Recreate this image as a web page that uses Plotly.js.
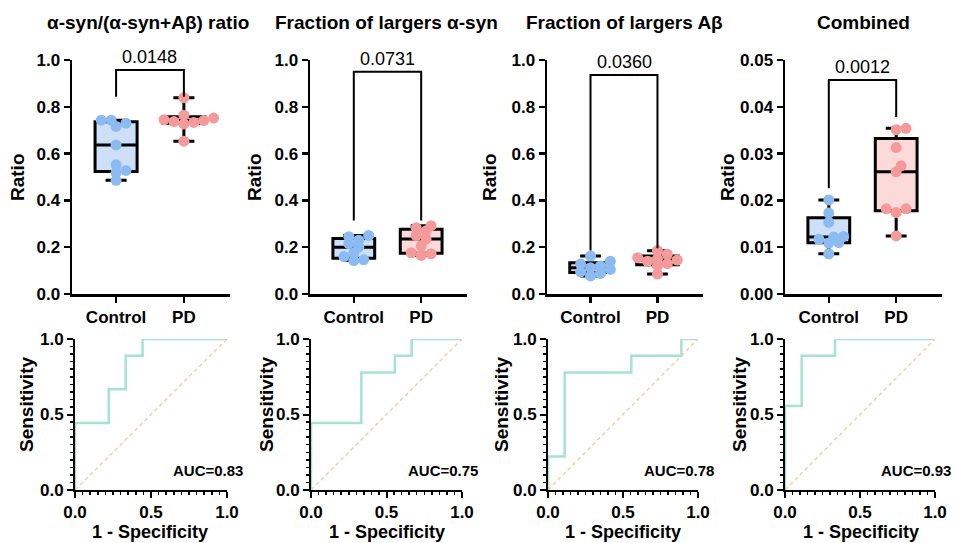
<!DOCTYPE html>
<html><head><meta charset="utf-8">
<script src="https://cdn.plot.ly/plotly-3.0.1.min.js"></script>
<style>html,body{margin:0;padding:0;background:#fff}#chart{width:958px;height:543px}</style>
</head><body><div id="chart"></div>
<script>
// ---------- DATA ----------
const groups = ['Control', 'PD'];
const panelTitles = ['α-syn/(α-syn+Aβ) ratio', 'Fraction of largers α-syn', 'Fraction of largers Aβ', 'Combined'];
const control1 = [0.486, 0.519, 0.528, 0.552, 0.637, 0.716, 0.730, 0.743, 0.743];
const pd1      = [0.653, 0.727, 0.733, 0.737, 0.741, 0.745, 0.752, 0.764, 0.839];
const control2 = [0.143, 0.146, 0.160, 0.175, 0.200, 0.215, 0.230, 0.245, 0.250];
const pd2      = [0.165, 0.172, 0.176, 0.206, 0.235, 0.250, 0.270, 0.283, 0.292];
const control3 = [0.077, 0.088, 0.095, 0.105, 0.112, 0.120, 0.128, 0.140, 0.162];
const pd3      = [0.085, 0.120, 0.130, 0.140, 0.145, 0.150, 0.155, 0.170, 0.185];
const control4 = [0.0086, 0.0109, 0.0110, 0.0117, 0.0122, 0.0123, 0.0153, 0.0173, 0.0201];
const pd4      = [0.0124, 0.0174, 0.0182, 0.0182, 0.0261, 0.0274, 0.0313, 0.0351, 0.0354];
const pValues = ['0.0148', '0.0731', '0.0360', '0.0012'];
const bracketTop   = [0.957, 0.950, 0.936, 0.0457];
const bracketLeft  = [0.843, 0.314, 0.186, 0.0226];
const bracketRight = [0.843, 0.314, 0.196, 0.0378];
const yMax  = [1, 1, 1, 0.05];
const yStep = [0.2, 0.2, 0.2, 0.01];
const yFormat = ['.1f', '.1f', '.1f', '.2f'];
const rocFpr1 = [0, 0, 2/9, 3/9, 4/9, 1];
const rocTpr1 = [0, 4/9, 6/9, 8/9, 1, 1];
const rocFpr2 = [0, 0, 3/9, 5/9, 6/9, 1];
const rocTpr2 = [0, 4/9, 7/9, 8/9, 1, 1];
const rocFpr3 = [0, 0, 1/9, 5/9, 8/9, 1];
const rocTpr3 = [0, 2/9, 7/9, 8/9, 1, 1];
const rocFpr4 = [0, 0, 1/9, 3/9, 1];
const rocTpr4 = [0, 5/9, 8/9, 1, 1];
const aucLabels = ['AUC=0.83', 'AUC=0.75', 'AUC=0.78', 'AUC=0.93'];

// ---------- LAYOUT HELPERS ----------
const W = 958, H = 543;
const FONT = 'Liberation Sans, Arial, Helvetica, sans-serif';
const topX = [[72, 230], [310, 467], [547, 703], [785, 942]];
const topY = [60, 294];
const botX = [[75, 227], [311, 462], [548, 698], [785, 935]];
const botY = [339, 490];
const catRange = [-0.65, 1.68];
const titleX = [148, 386, 624, 863];
const ratioX = [18, 255, 490, 728];
const sensX = [26, 266, 501, 739];
const specX = [150, 387, 623, 861];
const ctrlColor = '#8cbbf1', ctrlFill = '#cde0f7';
const pdColor = '#f49a9a', pdFill = '#fcdada';
const rocColor = '#a6e3cd', diagColor = '#f7cfa6';
const MARK = 11;

const dxp = a => [a[0] / W, a[1] / W];
const dyp = a => [(H - a[1]) / H, (H - a[0]) / H];

function quart(vals) {
  const s = vals.slice().sort((a, b) => a - b);
  const med = arr => { const n = arr.length, m = Math.floor(n / 2); return n % 2 ? arr[m] : (arr[m - 1] + arr[m]) / 2; };
  const n = s.length, h = Math.floor(n / 2);
  const lower = s.slice(0, h), upper = s.slice(n % 2 ? h + 1 : h);
  return {q1: med(lower), median: med(s), q3: med(upper), min: s[0], max: s[n - 1]};
}

function swarmOffsets(vals, pxPerVal, pxPerCat, diam) {
  const idx = vals.map((v, i) => i).sort((a, b) => vals[a] - vals[b]);
  const placed = [], off = new Array(vals.length).fill(0);
  const step = diam * 0.45, minD = diam * 0.62;
  for (const i of idx) {
    for (let k = 0; k < 60; k++) {
      const cand = k === 0 ? 0 : (k % 2 ? 1 : -1) * Math.ceil(k / 2) * step;
      let ok = true;
      for (const p of placed) {
        const ddx = cand - p.x, ddy = (vals[i] - p.v) * pxPerVal;
        if (ddx * ddx + ddy * ddy < minD * minD) { ok = false; break; }
      }
      if (ok) { off[i] = cand / pxPerCat; placed.push({x: cand, v: vals[i]}); break; }
    }
  }
  return off;
}

const groupData = [[control1, pd1], [control2, pd2], [control3, pd3], [control4, pd4]];
const rocData = [[rocFpr1, rocTpr1], [rocFpr2, rocTpr2], [rocFpr3, rocTpr3], [rocFpr4, rocTpr4]];

const traces = [];
const layout = {
  width: W, height: H, margin: {l: 0, r: 0, t: 0, b: 0},
  paper_bgcolor: '#fff', plot_bgcolor: '#fff', showlegend: false,
  font: {family: FONT, color: '#000'},
  annotations: []
};
const bold = sz => ({size: sz, weight: 'bold', family: FONT, color: '#000'});

for (let p = 0; p < 4; p++) {
  const ti = p + 1, bi = p + 5;
  const tx = 'x' + (ti === 1 ? '' : ti), ty = 'y' + (ti === 1 ? '' : ti);
  const bx = 'x' + bi, by = 'y' + bi;
  const pxPerVal = (topY[1] - topY[0]) / yMax[p];
  const pxPerCat = (topX[p][1] - topX[p][0]) / (catRange[1] - catRange[0]);

  groupData[p].forEach((vals, g) => {
    const q = quart(vals);
    traces.push({
      type: 'box', xaxis: tx, yaxis: ty, x: [g],
      q1: [q.q1], median: [q.median], q3: [q.q3], lowerfence: [q.min], upperfence: [q.max],
      width: 0.62, whiskerwidth: 0.5, boxpoints: false,
      fillcolor: g === 0 ? ctrlFill : pdFill,
      line: {color: '#000', width: 3}, hoverinfo: 'skip'
    });
    const off = swarmOffsets(vals, pxPerVal, pxPerCat, MARK);
    traces.push({
      type: 'scatter', mode: 'markers', xaxis: tx, yaxis: ty,
      x: vals.map((v, i) => g + off[i]), y: vals,
      marker: {size: MARK, color: g === 0 ? ctrlColor : pdColor, line: {width: 0}},
      cliponaxis: false, hoverinfo: 'y'
    });
  });
  traces.push({
    type: 'scatter', mode: 'lines', xaxis: tx, yaxis: ty,
    x: [0, 0, 1, 1], y: [bracketLeft[p], bracketTop[p], bracketTop[p], bracketRight[p]],
    line: {color: '#000', width: 2}, cliponaxis: false, hoverinfo: 'skip'
  });
  layout.annotations.push({
    xref: tx, yref: ty, x: 0.5, y: bracketTop[p], yanchor: 'bottom', yshift: 1,
    text: pValues[p], showarrow: false, font: {size: 18, family: FONT, color: '#000'}
  });

  traces.push({
    type: 'scatter', mode: 'lines', xaxis: bx, yaxis: by,
    x: [0, 1], y: [0, 1], line: {color: diagColor, width: 1.5, dash: '4px,3px'}, hoverinfo: 'skip'
  });
  traces.push({
    type: 'scatter', mode: 'lines', xaxis: bx, yaxis: by,
    x: rocData[p][0], y: rocData[p][1], line: {color: rocColor, width: 2.5, shape: 'hv'},
    cliponaxis: false
  });
  layout.annotations.push({
    xref: bx, yref: by, x: 1, y: 0.13, xanchor: 'right', yanchor: 'middle', xshift: 18,
    text: aucLabels[p], showarrow: false, font: bold(15)
  });

  const tickFont = bold(17);
  layout['xaxis' + (ti === 1 ? '' : ti)] = {
    domain: dxp(topX[p]), anchor: ty, range: catRange,
    tickvals: [0, 1], ticktext: groups, ticks: 'outside', ticklen: 6, tickwidth: 2.5, tickcolor: '#000',
    showline: true, linewidth: 2.5, linecolor: '#000', showgrid: false, zeroline: false,
    tickfont: tickFont, fixedrange: true
  };
  layout['yaxis' + (ti === 1 ? '' : ti)] = {
    domain: dyp(topY), anchor: tx, range: [0, yMax[p]], tick0: 0, dtick: yStep[p], tickformat: yFormat[p],
    ticks: 'outside', ticklen: 6, tickwidth: 2.5, tickcolor: '#000',
    showline: true, linewidth: 2.5, linecolor: '#000', showgrid: false, zeroline: false,
    tickfont: tickFont, fixedrange: true
  };
  const minor = {dtick: 0.05, ticks: 'outside', ticklen: 3, tickwidth: 1.5, tickcolor: '#000', showgrid: false};
  layout['xaxis' + bi] = {
    domain: dxp(botX[p]), anchor: by, range: [0, 1], tick0: 0, dtick: 0.5, tickformat: '.1f',
    ticks: 'outside', ticklen: 6, tickwidth: 2, tickcolor: '#000', minor: minor,
    showline: true, linewidth: 2, linecolor: '#000', showgrid: false, zeroline: false,
    tickfont: tickFont, fixedrange: true
  };
  layout['yaxis' + bi] = {
    domain: dyp(botY), anchor: bx, range: [0, 1], tick0: 0, dtick: 0.5, tickformat: '.1f',
    ticks: 'outside', ticklen: 6, tickwidth: 2, tickcolor: '#000', minor: minor,
    showline: true, linewidth: 2, linecolor: '#000', showgrid: false, zeroline: false,
    tickfont: tickFont, fixedrange: true
  };

  layout.annotations.push({xref: 'paper', yref: 'paper', x: titleX[p] / W, y: (H - 22) / H,
    xanchor: 'center', yanchor: 'middle', text: panelTitles[p], showarrow: false, font: bold(19)});
  layout.annotations.push({xref: 'paper', yref: 'paper', x: ratioX[p] / W, y: (H - 177) / H,
    xanchor: 'center', yanchor: 'middle', textangle: -90, text: 'Ratio', showarrow: false, font: bold(19)});
  layout.annotations.push({xref: 'paper', yref: 'paper', x: sensX[p] / W, y: (H - 405) / H,
    xanchor: 'center', yanchor: 'middle', textangle: -90, text: 'Sensitivity', showarrow: false, font: bold(19)});
  layout.annotations.push({xref: 'paper', yref: 'paper', x: specX[p] / W, y: (H - 532) / H,
    xanchor: 'center', yanchor: 'middle', text: '1 - Specificity', showarrow: false, font: bold(18)});
}

Plotly.newPlot('chart', traces, layout, {displayModeBar: false, staticPlot: true});
</script>
</body></html>
